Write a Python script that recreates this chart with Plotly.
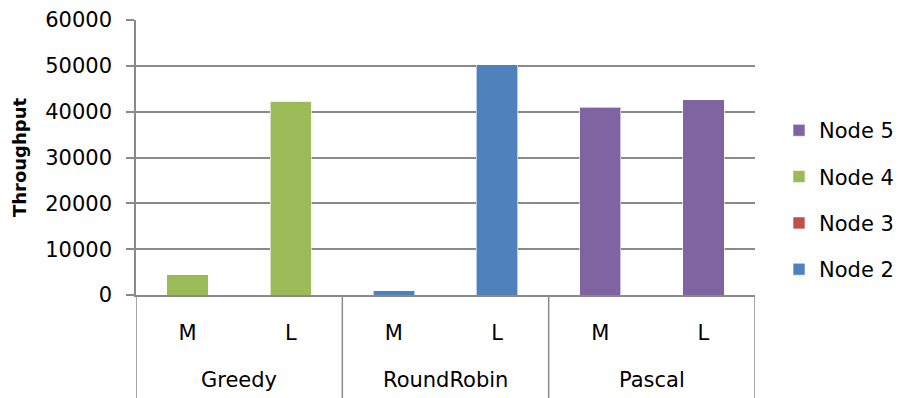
import plotly.graph_objects as go

# Scheduling strategies, each run with a medium (M) and large (L) workload
groups = ["Greedy", "RoundRobin", "Pascal"]
sizes = ["M", "L"]
categories = [f"{g} {s}" for g in groups for s in sizes]
tick_labels = [s for g in groups for s in sizes]

# Throughput contributed by each node
node2 = [0, 0, 1000, 50200, 0, 0]
node3 = [0, 0, 0, 0, 0, 0]
node4 = [4400, 42300, 0, 0, 0, 0]
node5 = [0, 0, 0, 0, 41000, 42600]

series = [
    ("Node 2", node2, "#4F81BD"),
    ("Node 3", node3, "#C0504D"),
    ("Node 4", node4, "#9BBB59"),
    ("Node 5", node5, "#8064A2"),
]

FONT = "DejaVu Sans"
FSIZE = 21
GRID = "#8A8A8A"

W, H = 900, 398
ML, MR, MT, MB = 136, 0, 20, 103
PLOT_RIGHT = 755  # right edge of the bar area in pixels
area_w = W - ML - MR
x_end = (PLOT_RIGHT - ML) / area_w

fig = go.Figure()
for rank, (name, vals, color) in enumerate(series):
    fig.add_trace(go.Bar(
        x=categories, y=vals, name=name,
        marker=dict(color=color, line=dict(color="rgba(255,255,255,0.6)", width=1)),
        width=0.4, legendgroup=name, legendrank=len(series) - rank,
    ))

# Vertical separators between strategy groups, running through the label rows
for x in [-0.5, 1.5, 3.5, 5.5]:
    fig.add_shape(type="line", xref="x", yref="paper", x0=x, x1=x,
                  y0=0, y1=-0.375, line=dict(color=GRID, width=1.5))

# Strategy names under the M/L labels
for i, g in enumerate(groups):
    fig.add_annotation(x=2 * i + 0.5, xref="x", y=-0.31, yref="paper",
                       text=g, showarrow=False, yanchor="middle",
                       font=dict(family=FONT, size=FSIZE, color="#000000"))

fig.update_layout(
    width=W, height=H,
    margin=dict(l=ML, r=MR, t=MT, b=MB),
    barmode="stack",
    plot_bgcolor="white", paper_bgcolor="white",
    font=dict(family=FONT, size=FSIZE, color="#000000"),
    showlegend=True,
    legend=dict(
        traceorder="grouped", tracegroupgap=16,
        x=(779 - ML) / area_w, xanchor="left", y=0.345, yanchor="middle",
        font=dict(family=FONT, size=FSIZE, color="#000000"),
        itemwidth=30, bgcolor="rgba(0,0,0,0)", borderwidth=0,
    ),
    xaxis=dict(
        domain=[0, x_end],
        type="category", categoryorder="array", categoryarray=categories,
        tickvals=categories, ticktext=tick_labels,
        range=[-0.5, 5.5], showgrid=False, showline=True,
        linecolor=GRID, linewidth=1.5, ticks="", ticklabelstandoff=18,
        tickfont=dict(family=FONT, size=FSIZE, color="#000000"),
    ),
    yaxis=dict(
        range=[0, 60000], tickvals=[0, 10000, 20000, 30000, 40000, 50000, 60000],
        ticktext=["0", "10000", "20000", "30000", "40000", "50000", "60000"],
        showgrid=True, gridcolor=GRID, gridwidth=1.5,
        showline=True, linecolor=GRID, linewidth=1.5,
        ticks="outside", ticklen=8, tickcolor=GRID, tickwidth=1.5,
        ticklabelstandoff=10, zeroline=False,
        tickfont=dict(family=FONT, size=FSIZE, color="#000000"),
        title=dict(text="<b>Throughput</b>", standoff=14,
                   font=dict(family=FONT, size=18, color="#000000")),
    ),
)

fig.write_html("out.html")
